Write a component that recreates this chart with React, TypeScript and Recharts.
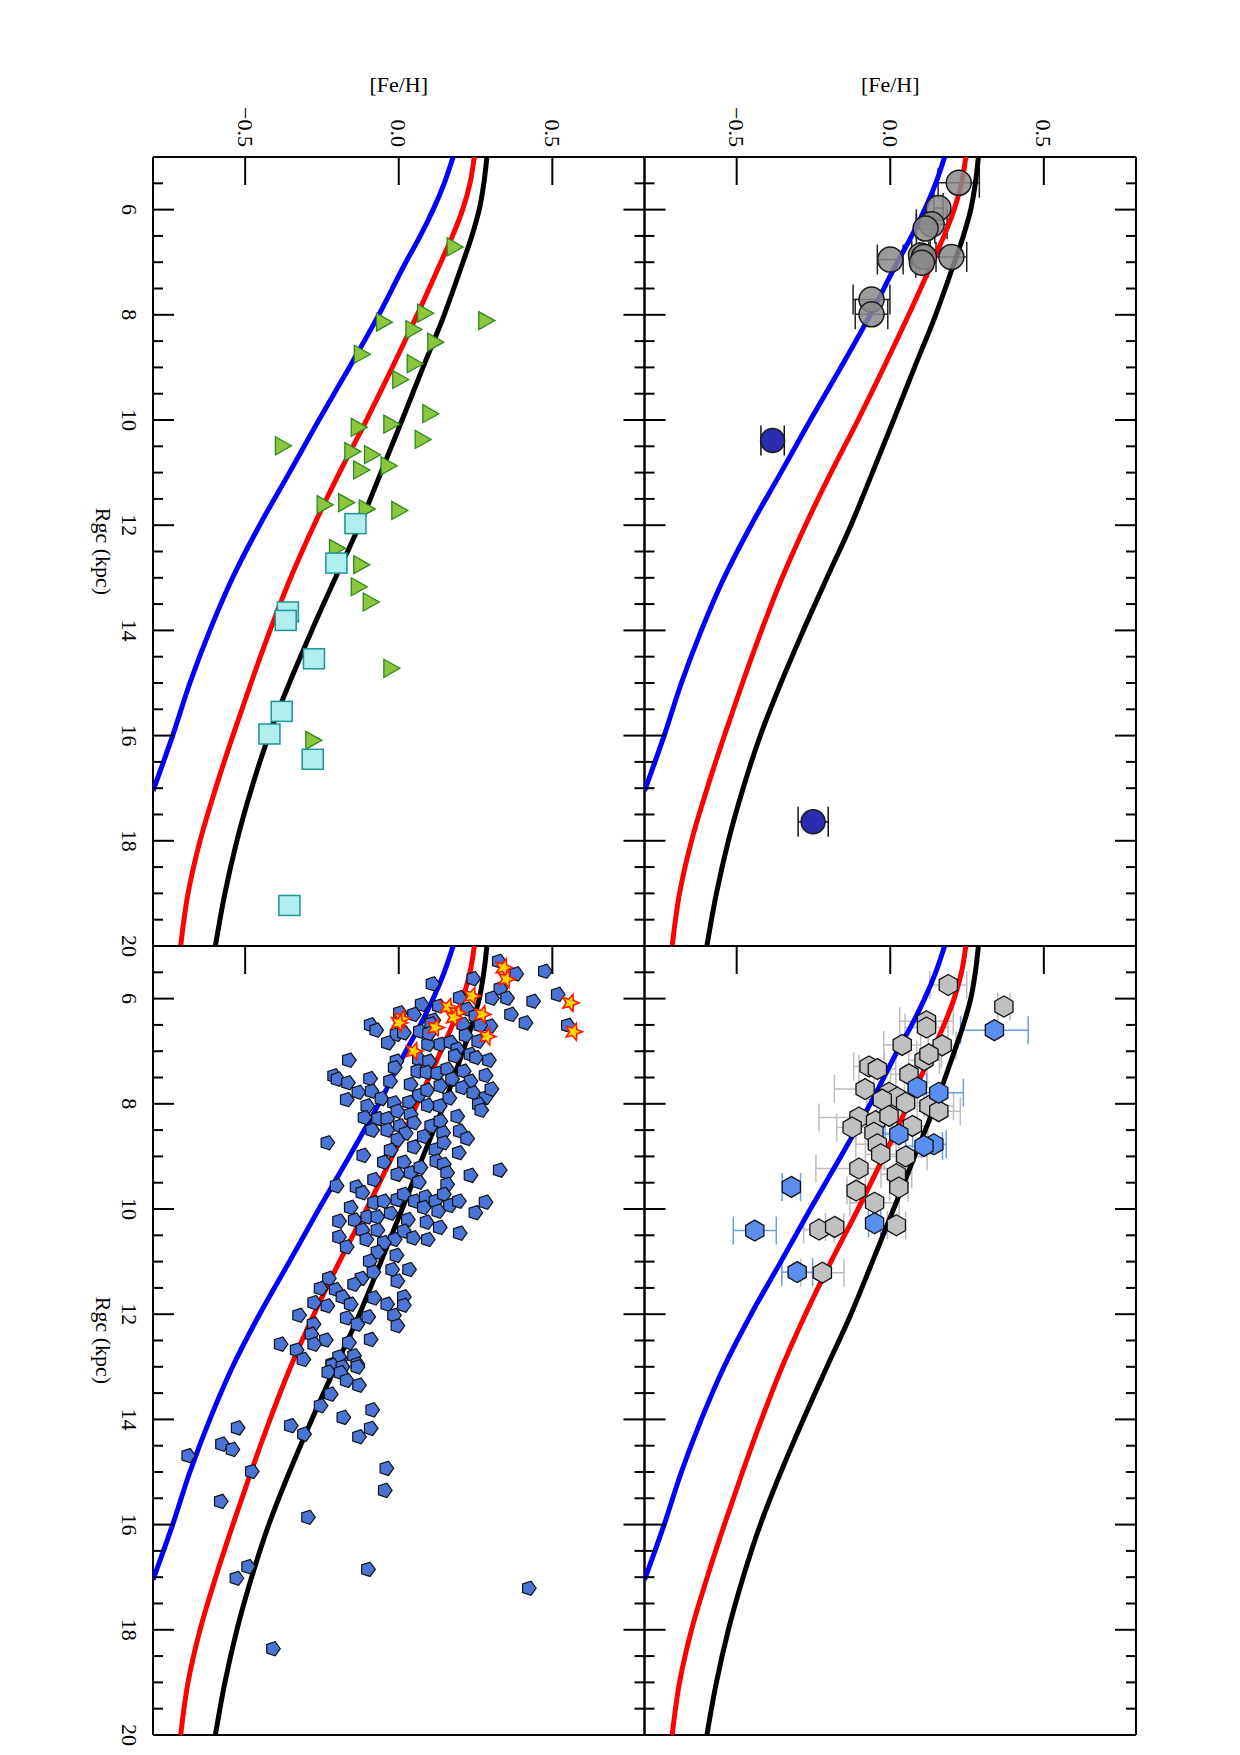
import { ScatterChart, Scatter, XAxis, YAxis, ErrorBar } from "recharts";

const FONT = "'Liberation Serif', 'DejaVu Serif', 'Times New Roman', serif";

// axis ticks
const fehMajor = [-0.5, 0, 0.5];
const fehMinor = [-0.7, -0.6, -0.4, -0.3, -0.2, -0.1, 0.1, 0.2, 0.3, 0.4, 0.6, 0.7];
const rgcMajor = [6, 8, 10, 12, 14, 16, 18, 20];
const rgcMinor = [5.5, 6.5, 7, 7.5, 8.5, 9, 9.5, 10.5, 11, 11.5, 12.5, 13, 13.5, 14.5, 15, 15.5, 16.5, 17, 17.5, 18.5, 19, 19.5];

// model gradients
const blackModel = [
  { r: 5.0, feh: 0.287 }, { r: 5.5, feh: 0.277 }, { r: 6.0, feh: 0.262 }, { r: 6.5, feh: 0.238 },
  { r: 7.0, feh: 0.209 }, { r: 7.5, feh: 0.179 }, { r: 8.0, feh: 0.148 }, { r: 9.0, feh: 0.079 },
  { r: 10.0, feh: 0.011 }, { r: 11.0, feh: -0.058 }, { r: 12.0, feh: -0.128 }, { r: 13.0, feh: -0.206 },
  { r: 14.0, feh: -0.283 }, { r: 15.0, feh: -0.356 }, { r: 16.0, feh: -0.423 }, { r: 17.0, feh: -0.479 },
  { r: 18.0, feh: -0.527 }, { r: 19.0, feh: -0.566 }, { r: 20.0, feh: -0.597 },
];
const redModel = [
  { r: 5.0, feh: 0.246 }, { r: 5.5, feh: 0.232 }, { r: 6.0, feh: 0.208 }, { r: 6.5, feh: 0.175 },
  { r: 7.0, feh: 0.137 }, { r: 8.0, feh: 0.06 }, { r: 9.0, feh: -0.021 }, { r: 10.0, feh: -0.105 },
  { r: 11.0, feh: -0.193 }, { r: 12.0, feh: -0.276 }, { r: 13.0, feh: -0.352 }, { r: 14.0, feh: -0.419 },
  { r: 15.0, feh: -0.481 }, { r: 16.0, feh: -0.54 }, { r: 17.0, feh: -0.596 }, { r: 18.0, feh: -0.647 },
  { r: 19.0, feh: -0.686 }, { r: 20.0, feh: -0.71 },
];
const blueModel = [
  { r: 5.0, feh: 0.177 }, { r: 5.5, feh: 0.148 }, { r: 6.0, feh: 0.112 }, { r: 6.5, feh: 0.07 },
  { r: 7.0, feh: 0.023 }, { r: 8.0, feh: -0.065 }, { r: 9.0, feh: -0.161 }, { r: 10.0, feh: -0.26 },
  { r: 11.0, feh: -0.356 }, { r: 12.0, feh: -0.453 }, { r: 13.0, feh: -0.541 }, { r: 14.0, feh: -0.615 },
  { r: 15.0, feh: -0.68 }, { r: 16.0, feh: -0.736 }, { r: 16.5, feh: -0.766 }, { r: 17.05, feh: -0.8 },
];

// panel: gray circles + two navy circles
const grayCircles = [
  { r: 5.49, feh: 0.223, ex: 0.067 }, { r: 5.97, feh: 0.157, ex: 0.015 }, { r: 6.28, feh: 0.135, ex: 0.05 },
  { r: 6.36, feh: 0.115, ex: 0.03 }, { r: 6.95, feh: 0.0, ex: 0.042 }, { r: 6.87, feh: 0.1, ex: 0.03 },
  { r: 6.9, feh: 0.11, ex: 0.015 }, { r: 7.01, feh: 0.103, ex: 0.02 }, { r: 6.9, feh: 0.199, ex: 0.05 },
  { r: 7.71, feh: -0.061, ex: 0.06 }, { r: 7.99, feh: -0.061, ex: 0.053 },
];
const navyCircles = [
  { r: 10.39, feh: -0.383, ex: 0.038 }, { r: 17.64, feh: -0.251, ex: 0.049 },
];

// panel: triangles and squares
const greenTriangles = [
  { r: 6.71, feh: 0.177 }, { r: 8.11, feh: 0.28 }, { r: 7.97, feh: 0.081 }, { r: 8.14, feh: -0.053 },
  { r: 8.28, feh: 0.043 }, { r: 8.52, feh: 0.114 }, { r: 8.75, feh: -0.125 }, { r: 8.93, feh: 0.047 },
  { r: 9.23, feh: 0.0 }, { r: 9.88, feh: 0.098 }, { r: 10.08, feh: -0.029 }, { r: 10.14, feh: -0.135 },
  { r: 10.37, feh: 0.073 }, { r: 10.49, feh: -0.382 }, { r: 10.6, feh: -0.156 }, { r: 10.66, feh: -0.092 },
  { r: 10.87, feh: -0.038 }, { r: 10.95, feh: -0.127 }, { r: 11.61, feh: -0.246 }, { r: 11.57, feh: -0.176 },
  { r: 11.69, feh: -0.109 }, { r: 11.72, feh: -0.003 }, { r: 12.44, feh: -0.206 }, { r: 12.75, feh: -0.127 },
  { r: 13.17, feh: -0.135 }, { r: 13.46, feh: -0.096 }, { r: 14.72, feh: -0.029 }, { r: 16.09, feh: -0.283 },
];
const cyanSquares = [
  { r: 11.97, feh: -0.141 }, { r: 12.72, feh: -0.203 }, { r: 13.65, feh: -0.361 }, { r: 13.81, feh: -0.368 },
  { r: 14.54, feh: -0.276 }, { r: 15.54, feh: -0.381 }, { r: 15.97, feh: -0.421 }, { r: 16.45, feh: -0.28 },
  { r: 19.23, feh: -0.356 },
];

// panel: hexagons
const grayHexagons = [
  { r: 5.74, feh: 0.189, ex: 0.06 }, { r: 6.15, feh: 0.37, ex: 0.02 }, { r: 6.43, feh: 0.118, ex: 0.087 },
  { r: 6.55, feh: 0.118, ex: 0.07 }, { r: 6.88, feh: 0.039, ex: 0.06 }, { r: 6.89, feh: 0.169, ex: 0.045 },
  { r: 7.17, feh: 0.11, ex: 0.05 }, { r: 7.06, feh: 0.126, ex: 0.04 }, { r: 7.29, feh: -0.069, ex: 0.05 },
  { r: 7.34, feh: -0.042, ex: 0.06 }, { r: 7.44, feh: 0.061, ex: 0.06 }, { r: 7.72, feh: -0.082, ex: 0.1 },
  { r: 7.79, feh: -0.004, ex: 0.05 }, { r: 7.88, feh: 0.023, ex: 0.04 }, { r: 7.92, feh: -0.026, ex: 0.05 },
  { r: 7.98, feh: 0.05, ex: 0.06 }, { r: 8.04, feh: 0.126, ex: 0.08 }, { r: 8.14, feh: 0.158, ex: 0.07 },
  { r: 8.26, feh: -0.102, ex: 0.13 }, { r: 8.45, feh: -0.124, ex: 0.05 }, { r: 8.33, feh: -0.048, ex: 0.05 },
  { r: 8.23, feh: -0.004, ex: 0.04 }, { r: 8.42, feh: 0.072, ex: 0.05 }, { r: 8.55, feh: -0.053, ex: 0.06 },
  { r: 8.77, feh: -0.042, ex: 0.07 }, { r: 8.96, feh: -0.031, ex: 0.05 }, { r: 9.0, feh: 0.05, ex: 0.07 },
  { r: 9.23, feh: -0.102, ex: 0.14 }, { r: 9.34, feh: 0.02, ex: 0.05 }, { r: 9.59, feh: 0.028, ex: 0.03 },
  { r: 9.65, feh: -0.111, ex: 0.03 }, { r: 9.88, feh: -0.051, ex: 0.08 }, { r: 10.39, feh: -0.232, ex: 0.05 },
  { r: 10.34, feh: -0.181, ex: 0.03 }, { r: 10.31, feh: 0.02, ex: 0.03 }, { r: 11.21, feh: -0.221, ex: 0.07 },
];
const blueHexagons = [
  { r: 6.6, feh: 0.339, ex: 0.11 }, { r: 7.69, feh: 0.088, ex: 0.03 }, { r: 7.79, feh: 0.158, ex: 0.08 },
  { r: 8.58, feh: 0.028, ex: 0.045 }, { r: 8.77, feh: 0.142, ex: 0.04 }, { r: 8.8, feh: 0.11, ex: 0.06 },
  { r: 9.58, feh: -0.322, ex: 0.03 }, { r: 10.41, feh: -0.441, ex: 0.07 }, { r: 10.27, feh: -0.051, ex: 0.02 },
  { r: 11.2, feh: -0.303, ex: 0.05 },
];

// panel: pentagons and stars
const bluePentagons = [
  { r: 5.29, feh: 0.325 }, { r: 5.53, feh: 0.382 }, { r: 5.48, feh: 0.475 }, { r: 5.62, feh: 0.242 },
  { r: 5.72, feh: 0.109 }, { r: 5.81, feh: 0.33 }, { r: 5.99, feh: 0.303 }, { r: 5.99, feh: 0.352 },
  { r: 6.05, feh: 0.437 }, { r: 5.92, feh: 0.517 }, { r: 5.98, feh: 0.198 }, { r: 6.11, feh: 0.074 },
  { r: 6.14, feh: 0.13 }, { r: 6.2, feh: 0.222 }, { r: 6.27, feh: 0.003 }, { r: 6.3, feh: 0.049 },
  { r: 6.41, feh: 0.112 }, { r: 6.49, feh: 0.209 }, { r: 6.33, feh: 0.249 }, { r: 6.52, feh: 0.298 },
  { r: 6.3, feh: 0.365 }, { r: 6.46, feh: 0.412 }, { r: 6.5, feh: -0.092 }, { r: 6.6, feh: -0.074 },
  { r: 6.62, feh: 0.068 }, { r: 6.48, feh: 0.105 }, { r: 6.51, feh: 0.265 }, { r: 6.68, feh: -0.008 },
  { r: 6.84, feh: -0.036 }, { r: 6.65, feh: 0.016 }, { r: 6.87, feh: 0.095 }, { r: 6.87, feh: 0.135 },
  { r: 6.83, feh: 0.168 }, { r: 6.7, feh: 0.217 }, { r: 6.81, feh: 0.258 }, { r: 6.51, feh: 0.55 },
  { r: 6.66, feh: 0.098 }, { r: 6.96, feh: 0.19 }, { r: 7.17, feh: -0.163 }, { r: 7.19, feh: -0.008 },
  { r: 7.31, feh: -0.014 }, { r: 7.15, feh: 0.065 }, { r: 7.19, feh: 0.098 }, { r: 7.09, feh: 0.182 },
  { r: 7.06, feh: 0.233 }, { r: 7.12, feh: 0.251 }, { r: 7.17, feh: 0.293 }, { r: 7.47, feh: -0.211 },
  { r: 7.53, feh: -0.2 }, { r: 7.6, feh: -0.166 }, { r: 7.52, feh: -0.094 }, { r: 7.57, feh: -0.029 },
  { r: 7.63, feh: 0.038 }, { r: 7.38, feh: 0.06 }, { r: 7.4, feh: 0.09 }, { r: 7.42, feh: 0.125 },
  { r: 7.34, feh: 0.157 }, { r: 7.53, feh: 0.173 }, { r: 7.38, feh: 0.211 }, { r: 7.57, feh: 0.233 },
  { r: 7.46, feh: 0.282 }, { r: 7.78, feh: -0.132 }, { r: 7.76, feh: -0.089 }, { r: 7.9, feh: -0.057 },
  { r: 7.92, feh: -0.17 }, { r: 7.84, feh: 0.065 }, { r: 7.74, feh: 0.092 }, { r: 7.66, feh: 0.135 },
  { r: 7.89, feh: 0.164 }, { r: 7.69, feh: 0.206 }, { r: 7.79, feh: 0.242 }, { r: 7.88, feh: 0.282 },
  { r: 7.72, feh: 0.301 }, { r: 7.97, feh: 0.033 }, { r: 8.04, feh: -0.103 }, { r: 7.98, feh: -0.016 },
  { r: 8.14, feh: -0.005 }, { r: 8.03, feh: 0.094 }, { r: 8.04, feh: 0.133 }, { r: 8.01, feh: 0.26 },
  { r: 8.12, feh: 0.268 }, { r: 8.26, feh: -0.112 }, { r: 8.28, feh: -0.068 }, { r: 8.28, feh: -0.038 },
  { r: 8.2, feh: 0.038 }, { r: 8.36, feh: 0.049 }, { r: 8.24, feh: 0.19 }, { r: 8.42, feh: 0.003 },
  { r: 8.42, feh: 0.105 }, { r: 8.33, feh: 0.135 }, { r: 8.5, feh: -0.087 }, { r: 8.5, feh: -0.038 },
  { r: 8.56, feh: 0.022 }, { r: 8.62, feh: 0.081 }, { r: 8.55, feh: 0.144 }, { r: 8.52, feh: 0.198 },
  { r: 8.66, feh: 0.222 }, { r: 8.68, feh: -0.005 }, { r: 8.74, feh: -0.233 }, { r: 8.98, feh: -0.116 },
  { r: 8.88, feh: -0.027 }, { r: 8.82, feh: 0.049 }, { r: 8.87, feh: 0.119 }, { r: 8.74, feh: 0.146 },
  { r: 8.93, feh: 0.195 }, { r: 9.11, feh: -0.049 }, { r: 9.11, feh: 0.016 }, { r: 9.09, feh: 0.122 },
  { r: 9.34, feh: -0.005 }, { r: 9.31, feh: 0.038 }, { r: 9.21, feh: 0.07 }, { r: 9.15, feh: 0.146 },
  { r: 9.31, feh: 0.157 }, { r: 9.36, feh: 0.233 }, { r: 9.26, feh: 0.328 }, { r: 9.44, feh: -0.081 },
  { r: 9.49, feh: 0.065 }, { r: 9.53, feh: 0.157 }, { r: 9.56, feh: -0.203 }, { r: 9.58, feh: -0.138 },
  { r: 9.69, feh: -0.119 }, { r: 9.88, feh: -0.081 }, { r: 9.85, feh: -0.049 }, { r: 9.82, feh: -0.005 },
  { r: 9.72, feh: 0.016 }, { r: 9.85, feh: 0.052 }, { r: 9.77, feh: 0.087 }, { r: 9.85, feh: 0.119 },
  { r: 9.72, feh: 0.146 }, { r: 9.93, feh: 0.166 }, { r: 9.85, feh: 0.195 }, { r: 9.87, feh: 0.282 },
  { r: 10.07, feh: 0.249 }, { r: 9.97, feh: -0.157 }, { r: 9.97, feh: 0.081 }, { r: 10.04, feh: 0.128 },
  { r: 10.23, feh: -0.195 }, { r: 10.21, feh: -0.144 }, { r: 10.15, feh: -0.103 }, { r: 10.15, feh: -0.07 },
  { r: 10.08, feh: -0.027 }, { r: 10.2, feh: 0.029 }, { r: 10.25, feh: 0.09 }, { r: 10.4, feh: -0.119 },
  { r: 10.4, feh: -0.07 }, { r: 10.42, feh: 0.016 }, { r: 10.35, feh: 0.133 }, { r: 10.46, feh: 0.198 },
  { r: 10.53, feh: -0.195 }, { r: 10.72, feh: -0.17 }, { r: 10.58, feh: -0.106 }, { r: 10.58, feh: -0.014 },
  { r: 10.55, feh: 0.047 }, { r: 10.58, feh: 0.094 }, { r: 10.64, feh: -0.049 }, { r: 10.82, feh: -0.07 },
  { r: 10.88, feh: -0.008 }, { r: 10.99, feh: -0.095 }, { r: 11.15, feh: -0.022 }, { r: 11.15, feh: 0.033 },
  { r: 11.2, feh: -0.083 }, { r: 11.37, feh: -0.005 }, { r: 11.32, feh: -0.228 }, { r: 11.32, feh: -0.122 },
  { r: 11.43, feh: -0.146 }, { r: 11.51, feh: -0.255 }, { r: 11.53, feh: -0.206 }, { r: 11.67, feh: -0.184 },
  { r: 11.78, feh: -0.276 }, { r: 11.84, feh: -0.233 }, { r: 11.81, feh: -0.157 }, { r: 11.69, feh: -0.081 },
  { r: 11.81, feh: -0.038 }, { r: 11.67, feh: 0.016 }, { r: 11.83, feh: 0.016 }, { r: 12.02, feh: -0.325 },
  { r: 12.19, feh: -0.278 }, { r: 12.07, feh: -0.17 }, { r: 12.19, feh: -0.135 }, { r: 12.05, feh: -0.1 },
  { r: 12.02, feh: -0.016 }, { r: 12.22, feh: -0.005 }, { r: 12.57, feh: -0.385 }, { r: 12.38, feh: -0.285 },
  { r: 12.49, feh: -0.238 }, { r: 12.57, feh: -0.276 }, { r: 12.68, feh: -0.333 }, { r: 12.54, feh: -0.163 },
  { r: 12.48, feh: -0.092 }, { r: 12.86, feh: -0.311 }, { r: 12.95, feh: -0.217 }, { r: 12.86, feh: -0.19 },
  { r: 12.79, feh: -0.146 }, { r: 12.95, feh: -0.135 }, { r: 12.81, feh: -0.195 }, { r: 12.97, feh: -0.217 },
  { r: 13.0, feh: -0.184 }, { r: 13.0, feh: -0.135 }, { r: 13.1, feh: -0.23 }, { r: 13.11, feh: -0.19 },
  { r: 13.26, feh: -0.17 }, { r: 13.35, feh: -0.13 }, { r: 13.52, feh: -0.222 }, { r: 13.74, feh: -0.255 },
  { r: 13.96, feh: -0.181 }, { r: 13.82, feh: -0.087 }, { r: 14.17, feh: -0.092 }, { r: 14.33, feh: -0.13 },
  { r: 14.12, feh: -0.352 }, { r: 14.28, feh: -0.309 }, { r: 14.16, feh: -0.525 }, { r: 14.47, feh: -0.576 },
  { r: 14.57, feh: -0.542 }, { r: 14.69, feh: -0.686 }, { r: 14.99, feh: -0.479 }, { r: 15.56, feh: -0.58 },
  { r: 15.86, feh: -0.296 }, { r: 14.93, feh: -0.041 }, { r: 15.35, feh: -0.046 }, { r: 16.8, feh: -0.491 },
  { r: 17.02, feh: -0.529 }, { r: 16.85, feh: -0.101 }, { r: 17.21, feh: 0.423 }, { r: 18.36, feh: -0.41 },
];
const redStars = [
  { r: 5.41, feh: 0.341 }, { r: 5.63, feh: 0.35 }, { r: 5.95, feh: 0.238 }, { r: 6.16, feh: 0.16 },
  { r: 6.27, feh: 0.19 }, { r: 6.36, feh: 0.179 }, { r: 6.3, feh: 0.271 }, { r: 6.72, feh: 0.287 },
  { r: 6.38, feh: 0.009 }, { r: 6.46, feh: 0.0 }, { r: 6.55, feh: 0.119 }, { r: 7.0, feh: 0.049 },
  { r: 6.08, feh: 0.558 }, { r: 6.63, feh: 0.569 },
];

const AX = { stroke: "#000", strokeWidth: 2 };

const fmtFeh = (v: number) => (v === 0 ? "0.0" : v < 0 ? "\u2212" + Math.abs(v).toFixed(1) : v.toFixed(1));

// tick mark drawn inward from the frame edge, optionally with a rotated label outside
function EdgeTick(props: any) {
  const { x, y, payload, tside, tlen, tlabel } = props;
  let x2 = x;
  let y2 = y;
  if (tside === "top") y2 = y + tlen;
  else if (tside === "bottom") y2 = y - tlen;
  else if (tside === "left") x2 = x + tlen;
  else x2 = x - tlen;
  let text = null;
  if (tlabel === "feh") {
    const ty = y - 10;
    text = (
      <text x={x} y={ty} transform={`rotate(90 ${x} ${ty})`} textAnchor="end" dominantBaseline="central"
        fontFamily={FONT} fontSize={22} fill="#000" stroke="none">{fmtFeh(payload.value)}</text>
    );
  } else if (tlabel === "rgc") {
    const tx = x - 24;
    text = (
      <text x={tx} y={y} transform={`rotate(90 ${tx} ${y})`} textAnchor="middle" dominantBaseline="central"
        fontFamily={FONT} fontSize={22} fill="#000" stroke="none">{payload.value}</text>
    );
  }
  return (
    <g>
      <line x1={x} y1={y} x2={x2} y2={y2} stroke="#000" strokeWidth={2} />
      {text}
    </g>
  );
}

function FehTitle(props: any) {
  const vb = props.viewBox || {};
  const x = vb.x + vb.width / 2;
  const y = vb.y - 73;
  return (
    <text x={x} y={y} textAnchor="middle" dominantBaseline="central" fontFamily={FONT} fontSize={22} fill="#000">[Fe/H]</text>
  );
}

function RgcTitle(props: any) {
  const vb = props.viewBox || {};
  const x = vb.x - 50;
  const y = vb.y + vb.height / 2;
  return (
    <text x={x} y={y} transform={`rotate(90 ${x} ${y})`} textAnchor="middle" dominantBaseline="central"
      fontFamily={FONT} fontSize={22} fill="#000">Rgc (kpc)</text>
  );
}

// shapes
const circleShape = (fill: string, r: number, opacity = 1) => (p: any) => (
  <circle cx={p.cx} cy={p.cy} r={r} fill={fill} fillOpacity={opacity} stroke="#1a1a1a" strokeWidth={1.5} />
);

const polygon = (n: number, start: number, r: number, cx: number, cy: number) =>
  Array.from({ length: n }, (_, i) => {
    const a = start + (i * 2 * Math.PI) / n;
    return `${cx + r * Math.cos(a)},${cy + r * Math.sin(a)}`;
  }).join(" ");

const hexShape = (fill: string) => (p: any) => (
  <polygon points={polygon(6, -Math.PI / 2, 10.5, p.cx, p.cy)} fill={fill} stroke="#111" strokeWidth={1.3} />
);

const pentShape = (p: any) => (
  <polygon points={polygon(5, 0, 7.5, p.cx, p.cy)} fill="#4a74d6" stroke="#111" strokeWidth={1.2} />
);

const triShape = (p: any) => (
  <polygon points={`${p.cx - 6},${p.cy - 9} ${p.cx - 6},${p.cy + 9} ${p.cx + 10},${p.cy}`}
    fill="#8cc63e" stroke="#2b8a1c" strokeWidth={1.3} />
);

const squareShape = (p: any) => (
  <rect x={p.cx - 10.5} y={p.cy - 10} width={21} height={20} fill="#b1eeee" stroke="#1e9494" strokeWidth={1.5} />
);

const starShape = (p: any) => {
  const pts: string[] = [];
  for (let i = 0; i < 10; i++) {
    const a = (i * Math.PI) / 5;
    const rr = i % 2 === 0 ? 9 : 4;
    pts.push(`${p.cx + rr * Math.cos(a)},${p.cy + rr * Math.sin(a)}`);
  }
  return <polygon points={pts.join(" ")} fill="#ffd400" stroke="#ff1a00" strokeWidth={1.6} />;
};

const noShape = () => <g />;

function frameAxes(showFeh: boolean, showRgc: boolean) {
  const common = { type: "number" as const, allowDataOverflow: true, interval: 0 as const, tickSize: 0, tickMargin: 0, tickLine: false };
  const fehDom: [number, number] = [-0.8, 0.8];
  const rgcDom: [number, number] = [5, 20];
  return [
    <XAxis key="xt" xAxisId={0} dataKey="feh" {...common} domain={fehDom} orientation="top" height={0.01}
      ticks={fehMajor} axisLine={AX}
      tick={<EdgeTick tside="top" tlen={28} tlabel={showFeh ? "feh" : ""} />}
      label={showFeh ? <FehTitle /> : undefined} />,
    <XAxis key="xtm" xAxisId="xtm" {...common} domain={fehDom} orientation="top" height={0.01}
      ticks={fehMinor} axisLine={false} tick={<EdgeTick tside="top" tlen={14} />} />,
    <XAxis key="xb" xAxisId="xb" {...common} domain={fehDom} orientation="bottom" height={0.01}
      ticks={fehMajor} axisLine={AX} tick={<EdgeTick tside="bottom" tlen={28} />} />,
    <XAxis key="xbm" xAxisId="xbm" {...common} domain={fehDom} orientation="bottom" height={0.01}
      ticks={fehMinor} axisLine={false} tick={<EdgeTick tside="bottom" tlen={14} />} />,
    <YAxis key="yl" yAxisId={0} dataKey="r" {...common} domain={rgcDom} reversed orientation="left" width={0.01}
      ticks={rgcMajor} axisLine={AX}
      tick={<EdgeTick tside="left" tlen={21} tlabel={showRgc ? "rgc" : ""} />}
      label={showRgc ? <RgcTitle /> : undefined} />,
    <YAxis key="ylm" yAxisId="ylm" {...common} domain={rgcDom} reversed orientation="left" width={0.01}
      ticks={rgcMinor} axisLine={false} tick={<EdgeTick tside="left" tlen={10} />} />,
    <YAxis key="yr" yAxisId="yr" {...common} domain={rgcDom} reversed orientation="right" width={0.01}
      ticks={rgcMajor} axisLine={AX} tick={<EdgeTick tside="right" tlen={21} />} />,
    <YAxis key="yrm" yAxisId="yrm" {...common} domain={rgcDom} reversed orientation="right" width={0.01}
      ticks={rgcMinor} axisLine={false} tick={<EdgeTick tside="right" tlen={10} />} />,
  ];
}

function modelLines() {
  return [
    <Scatter key="mk" data={blackModel} fill="#000" shape={noShape} isAnimationActive={false}
      line={{ stroke: "#000", strokeWidth: 5, fill: "none" }} lineJointType="monotoneY" />,
    <Scatter key="mr" data={redModel} fill="#f00" shape={noShape} isAnimationActive={false}
      line={{ stroke: "#ff0000", strokeWidth: 5, fill: "none" }} lineJointType="monotoneY" />,
    <Scatter key="mb" data={blueModel} fill="#00f" shape={noShape} isAnimationActive={false}
      line={{ stroke: "#0000ff", strokeWidth: 5, fill: "none" }} lineJointType="monotoneY" />,
  ];
}

const W = 1240;
const H = 1755;
const colL = 153;
const colM = 644.5;
const colR = 1136;
const rowT = 157;
const rowM = 946;
const rowB = 1735;

function Panel({ left, right, top, bottom, showFeh, showRgc, children }: any) {
  return (
    <div style={{ position: "absolute", left: 0, top: 0 }}>
      <ScatterChart width={W} height={H} margin={{ left, right: W - right, top, bottom: H - bottom }}>
        {frameAxes(showFeh, showRgc)}
        {modelLines()}
        {children}
      </ScatterChart>
    </div>
  );
}

export default function App() {
  return (
    <div style={{ position: "absolute", left: 0, top: 0, width: W, height: H, background: "#fff" }}>
      <Panel left={colL} right={colM} top={rowT} bottom={rowM} showFeh showRgc>
        <Scatter data={greenTriangles} shape={triShape} isAnimationActive={false} />
        <Scatter data={cyanSquares} shape={squareShape} isAnimationActive={false} />
      </Panel>
      <Panel left={colM} right={colR} top={rowT} bottom={rowM} showFeh showRgc={false}>
        <Scatter data={grayCircles} shape={circleShape("#8a8a8a", 12.5, 0.85)} isAnimationActive={false}>
          <ErrorBar dataKey="ex" direction="x" width={15} stroke="#222" strokeWidth={1.5} />
        </Scatter>
        <Scatter data={navyCircles} shape={circleShape("#2c2cb0", 12)} isAnimationActive={false}>
          <ErrorBar dataKey="ex" direction="x" width={15} stroke="#111" strokeWidth={1.5} />
        </Scatter>
      </Panel>
      <Panel left={colL} right={colM} top={rowM} bottom={rowB} showFeh={false} showRgc>
        <Scatter data={bluePentagons} shape={pentShape} isAnimationActive={false} />
        <Scatter data={redStars} shape={starShape} isAnimationActive={false} />
      </Panel>
      <Panel left={colM} right={colR} top={rowM} bottom={rowB} showFeh={false} showRgc={false}>
        <Scatter data={grayHexagons} shape={hexShape("#c0c0c0")} isAnimationActive={false}>
          <ErrorBar dataKey="ex" direction="x" width={14} stroke="#bdbdbd" strokeWidth={1.5} />
        </Scatter>
        <Scatter data={blueHexagons} shape={hexShape("#5a8ff0")} isAnimationActive={false}>
          <ErrorBar dataKey="ex" direction="x" width={14} stroke="#6a9cf0" strokeWidth={1.5} />
        </Scatter>
      </Panel>
    </div>
  );
}
